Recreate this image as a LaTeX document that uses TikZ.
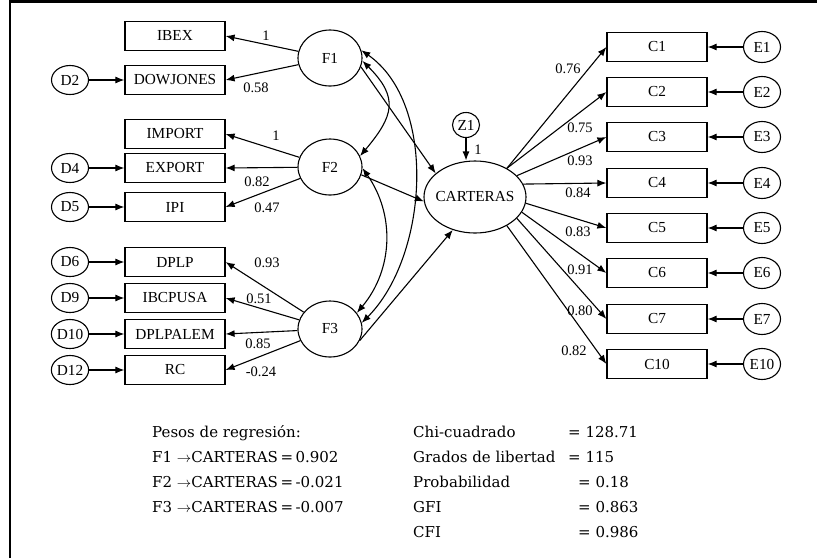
\documentclass[tikz,border=0pt]{standalone}
\usepackage{fontspec}
\newfontfamily\diagfont{Liberation Serif}
\newfontfamily\statfont{DejaVu Serif}
\usetikzlibrary{arrows.meta,shapes.geometric}
\tikzset{>={Latex[length=9pt,width=7pt]}}
\tikzstyle{manifest}=[rectangle,draw,line width=1.2pt,minimum width=100pt,minimum height=29pt,inner sep=0pt,font=\diagfont\fontsize{15.3}{18}\selectfont]
\tikzstyle{factor}=[ellipse,draw,line width=1.1pt,minimum width=64pt,minimum height=56pt,inner sep=0pt,font=\diagfont\fontsize{15.3}{18}\selectfont]
\tikzstyle{resid}=[ellipse,draw,line width=1.1pt,minimum width=37pt,minimum height=29pt,inner sep=0pt,font=\diagfont\fontsize{15.3}{18}\selectfont]
\tikzstyle{coef}=[inner sep=0pt,font=\diagfont\fontsize{14.5}{17}\selectfont]
\tikzstyle{load}=[->,line width=1.1pt]
\tikzstyle{covar}=[<->,line width=1.1pt]
\tikzstyle{stat}=[anchor=base west,inner sep=0pt,font=\statfont\fontsize{15}{18}\selectfont]

\begin{document}
\begin{tikzpicture}[x=1pt,y=-1pt]
	\useasboundingbox (0,0) rectangle (817,558);
	\draw[line width=2.6pt] (10,558) -- (10,1.2) -- (817,1.2);

	\node[manifest] (ibex) at (175,36) {IBEX};
	\node[manifest] (dowjones) at (175,80) {DOWJONES};
	\node[manifest] (import) at (175,134) {IMPORT};
	\node[manifest] (export) at (175,168) {EXPORT};
	\node[manifest] (ipi) at (175,207) {IPI};
	\node[manifest] (dplp) at (175,262) {DPLP};
	\node[manifest] (ibcpusa) at (175,298) {IBCPUSA};
	\node[manifest] (dplpalem) at (175,334) {DPLPALEM};
	\node[manifest] (rc) at (175,370) {RC};

	\node[resid] (d2) at (70,80) {D2};
	\node[resid] (d4) at (70,168) {D4};
	\node[resid] (d5) at (70,207) {D5};
	\node[resid] (d6) at (70,262) {D6};
	\node[resid] (d9) at (70,298) {D9};
	\node[resid] (d10) at (70,334) {D10};
	\node[resid] (d12) at (70,370) {D12};

	\node[factor] (f1) at (330,58) {F1};
	\node[factor] (f2) at (330,167) {F2};
	\node[factor] (f3) at (330,329) {F3};
	\node[factor,minimum width=102pt,minimum height=72pt,inner xsep=-6pt] (carteras) at (475,197) {CARTERAS};
	\node[resid,minimum width=27pt,minimum height=25pt,inner xsep=-2pt] (z1) at (466,125) {Z1};

	\node[manifest] (c1) at (657,47) {C1};
	\node[manifest] (c2) at (657,92) {C2};
	\node[manifest] (c3) at (657,137) {C3};
	\node[manifest] (c4) at (657,183) {C4};
	\node[manifest] (c5) at (657,228) {C5};
	\node[manifest] (c6) at (657,273) {C6};
	\node[manifest] (c7) at (657,319) {C7};
	\node[manifest] (c10) at (657,364) {C10};

	\node[resid,minimum height=31pt] (e1) at (762,47) {E1};
	\node[resid,minimum height=31pt] (e2) at (762,92) {E2};
	\node[resid,minimum height=31pt] (e3) at (762,137) {E3};
	\node[resid,minimum height=31pt] (e4) at (762,183) {E4};
	\node[resid,minimum height=31pt] (e5) at (762,228) {E5};
	\node[resid,minimum height=31pt] (e6) at (762,273) {E6};
	\node[resid,minimum height=31pt] (e7) at (762,319) {E7};
	\node[resid,minimum height=31pt] (e10) at (762,364) {E10};

	\node[coef] (w1) at (266,36) {1};
	\node[coef] (w2) at (256,88) {0.58};
	\node[coef] (w3) at (276,136) {1};
	\node[coef] (w4) at (257,182) {0.82};
	\node[coef] (w5) at (267,208) {0.47};
	\node[coef] (w6) at (267,263) {0.93};
	\node[coef] (w7) at (259,299) {0.51};
	\node[coef] (w8) at (258,344) {0.85};
	\node[coef] (w9) at (261,372) {-0.24};
	\node[coef] (wz) at (478,150) {1};
	\node[coef] (v1) at (568,69) {0.76};
	\node[coef] (v2) at (580,128) {0.75};
	\node[coef] (v3) at (580,161) {0.93};
	\node[coef] (v4) at (578,193) {0.84};
	\node[coef] (v5) at (578,232) {0.83};
	\node[coef] (v6) at (580,270) {0.91};
	\node[coef] (v7) at (580,311) {0.80};
	\node[coef] (v8) at (574,351) {0.82};

	\draw[load] (f1) -- (ibex.east);
	\draw[load] (f1) -- (dowjones.east);
	\draw[load] (f2) -- (import.east);
	\draw[load] (f2) -- (export.east);
	\draw[load] (f2) -- (ipi.east);
	\draw[load] (f3) -- (dplp.east);
	\draw[load] (f3) -- (ibcpusa.east);
	\draw[load] (f3) -- (dplpalem.east);
	\draw[load] (f3) -- (rc.east);

	\draw[load] (d2) -- (dowjones);
	\draw[load] (d4) -- (export);
	\draw[load] (d5) -- (ipi);
	\draw[load] (d6) -- (dplp);
	\draw[load] (d9) -- (ibcpusa);
	\draw[load] (d10) -- (dplpalem);
	\draw[load] (d12) -- (rc);

	\draw[load] (f1.-16) -- (carteras.149);
	\draw[load] (f2.-14) -- (carteras.185);
	\draw[load] (f3.-21) -- (carteras.236);
	\draw[load] (z1) -- (z1 |- carteras.north);

	\draw[covar] (f1.-5) to[out=-45,in=50,looseness=1.4] (f2.20);
	\draw[covar] (f1.14) to[out=-35,in=45,looseness=0.88] (f3.11);
	\draw[covar] (f2.-2) to[out=-55,in=50,looseness=1.0] (f3.31);

	\draw[load] (carteras.42) -- (c1.west);
	\draw[load] (carteras.42) -- (c2.west);
	\draw[load] (carteras.27) -- (c3.west);
	\draw[load] (carteras.15) -- (c4.west);
	\draw[load] (carteras.-7) -- (c5.west);
	\draw[load] (carteras.-18) -- (c6.west);
	\draw[load] (carteras.-27) -- (c7.west);
	\draw[load] (carteras.-42) -- (c10.west);

	\draw[load] (e1) -- (c1);
	\draw[load] (e2) -- (c2);
	\draw[load] (e3) -- (c3);
	\draw[load] (e4) -- (c4);
	\draw[load] (e5) -- (c5);
	\draw[load] (e6) -- (c6);
	\draw[load] (e7) -- (c7);
	\draw[load] (e10) -- (c10);

	\node[stat] (pesos) at (152,437) {Pesos de regresión:};
	\node[stat] (reg1) at (152,462) {F1 $\rightarrow$CARTERAS\,=\,0.902};
	\node[stat] (reg2) at (152,487) {F2 $\rightarrow$CARTERAS\,=\,-0.021};
	\node[stat] (reg3) at (152,512) {F3 $\rightarrow$CARTERAS\,=\,-0.007};
	\node[stat] (chi) at (413,437) {Chi-cuadrado};
	\node[stat] (gl) at (413,462) {Grados de libertad};
	\node[stat] (prob) at (413,487) {Probabilidad};
	\node[stat] (gfi) at (413,512) {GFI};
	\node[stat] (cfi) at (413,537) {CFI};
	\node[stat] (chival) at (568,437) {= 128.71};
	\node[stat] (glval) at (568,462) {= 115};
	\node[stat] (probval) at (578,487) {= 0.18};
	\node[stat] (gfival) at (578,512) {= 0.863};
	\node[stat] (cfival) at (578,537) {= 0.986};
\end{tikzpicture}
\end{document}
